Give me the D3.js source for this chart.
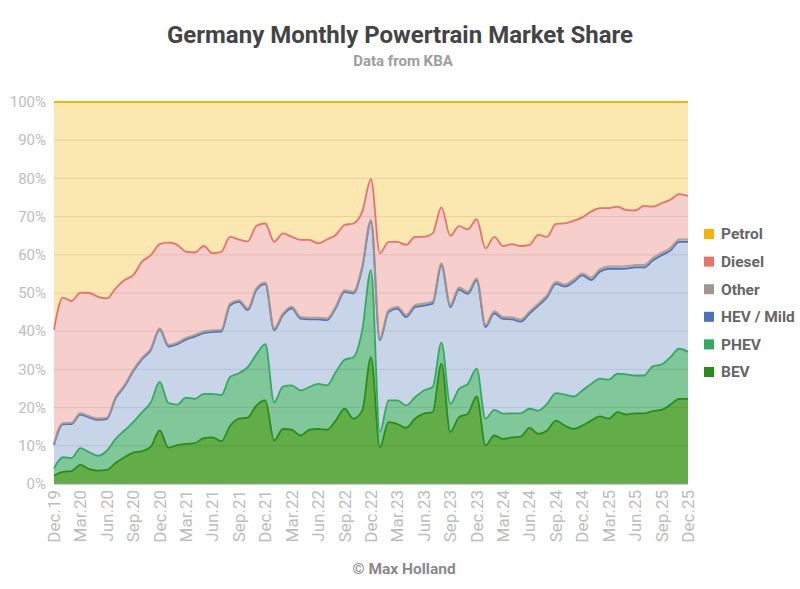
<!DOCTYPE html>
<html>
<head>
<meta charset="utf-8">
<script src="https://cdn.jsdelivr.net/npm/d3@7"></script>
<style>
  body { margin: 0; background: #fff; }
  svg { font-family: Roboto, "Noto Sans", sans-serif; }
</style>
</head>
<body>
<svg id="chart" width="800" height="589"></svg>
<script>
// month labels, Dec.19 .. Dec.25
const monthNames = ["Jan", "Feb", "Mar", "Apr", "May", "Jun", "Jul", "Aug", "Sep", "Oct", "Nov", "Dec"];
const months = [];
for (let y = 2019; y <= 2025; y++) {
  for (let m = 0; m < 12; m++) {
    if (y === 2019 && m < 11) continue;
    months.push(`${monthNames[m]}.${String(y).slice(2)}`);
  }
}

// market share in %, one value per month
const bev = [2.2, 3.2, 3.4, 5.0, 3.9, 3.5, 3.7, 5.5, 7.0, 8.2, 8.6, 9.8, 14.0,
  9.5, 10.2, 10.5, 10.7, 12.0, 12.2, 11.2, 15.2, 17.1, 17.4, 20.6, 21.9,
  11.4, 14.4, 14.2, 12.7, 14.2, 14.4, 14.2, 16.6, 19.7, 17.1, 19.2, 33.2,
  9.6, 16.2, 15.7, 14.7, 17.1, 18.4, 18.8, 31.5, 13.6, 17.5, 18.4, 22.9,
  10.1, 12.7, 11.8, 12.2, 12.4, 14.7, 13.1, 14.0, 16.6, 15.3, 14.4, 15.3,
  16.6, 17.7, 17.1, 18.8, 18.2, 18.5, 18.5, 19.1, 19.4, 20.8, 22.3, 22.3];
const phev = [1.9, 3.8, 3.4, 4.4, 4.4, 3.9, 5.0, 6.3, 7.0, 8.0, 10.2, 11.6, 12.7,
  11.7, 10.6, 12.1, 11.6, 11.6, 11.4, 12.1, 12.8, 11.9, 13.2, 13.4, 14.7,
  10.0, 11.1, 11.6, 11.8, 11.2, 11.8, 11.6, 12.7, 12.8, 16.1, 21.0, 22.8,
  4.0, 5.7, 6.2, 5.9, 5.6, 6.1, 6.6, 5.5, 7.4, 7.4, 7.8, 7.3,
  7.0, 6.7, 6.6, 6.3, 6.1, 5.0, 6.1, 7.0, 7.2, 8.1, 8.5, 9.2,
  9.6, 9.9, 10.2, 10.1, 10.5, 9.9, 9.9, 11.7, 11.9, 12.4, 13.1, 12.3];
const hev = [6.1, 8.6, 8.9, 8.8, 9.1, 9.4, 8.3, 10.6, 11.5, 13.3, 13.9, 13.7, 13.7,
  14.8, 15.8, 15.2, 16.3, 15.9, 16.2, 16.6, 18.8, 18.7, 14.9, 16.8, 15.7,
  18.9, 18.7, 20.2, 18.8, 17.7, 16.9, 17.1, 16.7, 17.8, 16.7, 16.3, 12.7,
  24.0, 23.1, 24.0, 23.1, 23.6, 22.2, 21.8, 20.2, 25.3, 26.0, 23.6, 23.1,
  24.0, 25.3, 24.8, 24.6, 24.0, 24.9, 27.5, 27.9, 28.6, 28.3, 30.0, 30.1,
  27.2, 28.0, 29.0, 27.4, 27.7, 28.3, 28.3, 27.7, 28.6, 27.9, 28.0, 28.8];
const other = [0.3, 0.3, 0.3, 0.3, 0.3, 0.3, 0.3, 0.3, 0.3, 0.3, 0.3, 0.3, 0.3,
  0.4, 0.4, 0.4, 0.4, 0.4, 0.4, 0.4, 0.4, 0.4, 0.4, 0.4, 0.4,
  0.4, 0.4, 0.4, 0.4, 0.4, 0.4, 0.4, 0.4, 0.4, 0.4, 0.4, 0.4,
  0.5, 0.5, 0.5, 0.5, 0.5, 0.5, 0.5, 0.5, 0.5, 0.5, 0.5, 0.5,
  0.5, 0.5, 0.5, 0.5, 0.5, 0.5, 0.5, 0.5, 0.5, 0.5, 0.5, 0.5,
  0.6, 0.6, 0.6, 0.6, 0.6, 0.6, 0.6, 0.6, 0.6, 0.6, 0.6, 0.6];
const diesel = [29.9, 32.9, 31.9, 31.6, 32.3, 31.9, 31.3, 28.5, 27.6, 24.9, 25.2, 24.5, 22.1,
  26.8, 25.6, 22.6, 21.6, 22.4, 20.2, 20.5, 17.5, 15.9, 17.6, 16.4, 15.5,
  22.7, 21.0, 18.3, 20.2, 20.4, 19.5, 20.7, 18.8, 17.1, 17.9, 14.4, 10.7,
  22.3, 17.9, 17.0, 18.4, 17.9, 17.5, 17.9, 14.7, 18.2, 16.1, 16.4, 15.5,
  20.1, 19.5, 18.6, 19.2, 19.3, 17.5, 18.0, 15.3, 15.2, 16.0, 15.5, 14.7,
  17.3, 16.0, 15.3, 15.7, 14.7, 14.3, 15.5, 13.5, 13.0, 12.7, 11.9, 11.4];
const petrol = [59.6, 51.2, 52.1, 49.9, 50.0, 51.0, 51.4, 48.8, 46.6, 45.3, 41.8, 40.1, 37.2,
  36.8, 37.4, 39.2, 39.4, 37.7, 39.6, 39.2, 35.3, 36.0, 36.5, 32.4, 31.8,
  36.6, 34.4, 35.3, 36.1, 36.1, 37.0, 36.0, 34.8, 32.2, 31.8, 28.7, 20.2,
  39.6, 36.6, 36.6, 37.4, 35.3, 35.3, 34.4, 27.6, 35.0, 32.5, 33.3, 30.7,
  38.3, 35.3, 37.7, 37.2, 37.7, 37.4, 34.8, 35.3, 31.9, 31.8, 31.1, 30.2,
  28.7, 27.8, 27.8, 27.4, 28.3, 28.4, 27.2, 27.4, 26.5, 25.6, 24.1, 24.6];

const seriesNames = ["BEV", "PHEV", "HEV / Mild", "Other", "Diesel", "Petrol"];
const seriesValues = [bev, phev, hev, other, diesel, petrol];
const lineColors = ["#2a8c1a", "#35a964", "#4a72b8", "#a3968f", "#e8736b", "#f5b400"];
const fillColors = ["#63ad49", "#80c799", "#c8d4e8", "#d6cdca", "#f6cecc", "#fbe7b0"];
const legendOrder = ["Petrol", "Diesel", "Other", "HEV / Mild", "PHEV", "BEV"];
const yTicks = d3.range(0, 101, 10);

const rows = months.map((m, i) => {
  const r = { month: m };
  seriesNames.forEach((s, k) => r[s] = seriesValues[k][i]);
  return r;
});

const svg = d3.select("#chart");
const margin = { left: 54, right: 112, top: 102, bottom: 105 };
const width = 800, height = 589;

const x = d3.scalePoint().domain(months).range([margin.left, width - margin.right]);
const y = d3.scaleLinear().domain([0, 100]).range([height - margin.bottom, margin.top]);

const stack = d3.stack().keys(seriesNames);
const layers = stack(rows);

// titles
svg.append("text").attr("x", 400).attr("y", 43).attr("text-anchor", "middle")
  .style("font-size", "24px").style("font-weight", "bold").attr("fill", "#444")
  .text("Germany Monthly Powertrain Market Share");
svg.append("text").attr("x", 403).attr("y", 66).attr("text-anchor", "middle")
  .style("font-size", "15px").style("font-weight", "bold").attr("fill", "#9e9e9e")
  .text("Data from KBA");

const area = d3.area()
  .x(d => x(d.data.month))
  .y0(d => y(d[0]))
  .y1(d => y(d[1]))
  .curve(d3.curveMonotoneX);

const topLine = d3.line()
  .x(d => x(d.data.month))
  .y(d => y(d[1]))
  .curve(d3.curveMonotoneX);

svg.append("g").selectAll("path")
  .data(layers)
  .enter()
  .append("path")
  .attr("d", area)
  .attr("fill", (d, i) => fillColors[i]);

// gridlines over the areas, faint
svg.append("g").selectAll("line")
  .data(yTicks.filter(t => t > 0 && t < 100))
  .enter()
  .append("line")
  .attr("x1", margin.left).attr("x2", width - margin.right)
  .attr("y1", d => y(d)).attr("y2", d => y(d))
  .attr("stroke", "#000").attr("stroke-opacity", 0.09).attr("stroke-width", 1);

// series top lines (Other drawn over HEV, wider)
svg.append("g").selectAll("path")
  .data(layers.map((layer, i) => ({ layer, i })))
  .enter()
  .append("path")
  .attr("d", d => topLine(d.layer))
  .attr("fill", "none")
  .attr("stroke", d => lineColors[d.i])
  .attr("stroke-width", d => d.i === 3 ? 2.2 : 1.8)
  .attr("stroke-opacity", d => d.i === 3 ? 0.85 : 1);

// axis baseline
svg.append("line")
  .attr("x1", margin.left).attr("x2", width - margin.right)
  .attr("y1", y(0)).attr("y2", y(0))
  .attr("stroke", "#9e9e9e").attr("stroke-width", 1);

// y labels
svg.append("g").selectAll("text")
  .data(yTicks)
  .enter()
  .append("text")
  .attr("x", margin.left - 8)
  .attr("y", d => y(d))
  .attr("dy", "0.35em")
  .attr("text-anchor", "end")
  .style("font-size", "15px")
  .attr("fill", "#bdbdbd")
  .text(d => d + "%");

// x labels every 3 months
svg.append("g").selectAll("text")
  .data(months.filter((m, i) => i % 3 === 0))
  .enter()
  .append("text")
  .attr("transform", d => `translate(${x(d)},${y(0) + 6}) rotate(-90)`)
  .attr("dy", "0.35em")
  .attr("text-anchor", "end")
  .style("font-size", "17px")
  .attr("fill", "#bdbdbd")
  .text(d => d);

// legend
const legend = svg.append("g").attr("transform", "translate(704,234)");
legendOrder.forEach((name, k) => {
  const idx = seriesNames.indexOf(name);
  const g = legend.append("g").attr("transform", `translate(0,${k * 27.6})`);
  g.append("rect").attr("x", 0).attr("y", -5).attr("width", 10).attr("height", 10)
    .attr("fill", lineColors[idx]);
  g.append("text").attr("x", 17).attr("dy", "0.35em")
    .style("font-size", "15.5px").style("font-weight", "bold").attr("fill", "#666")
    .text(name);
});

// footer
svg.append("text").attr("x", 404).attr("y", 574).attr("text-anchor", "middle")
  .style("font-size", "15.5px").style("font-weight", "bold").attr("fill", "#8a8a8a")
  .text("© Max Holland");
</script>
</body>
</html>
